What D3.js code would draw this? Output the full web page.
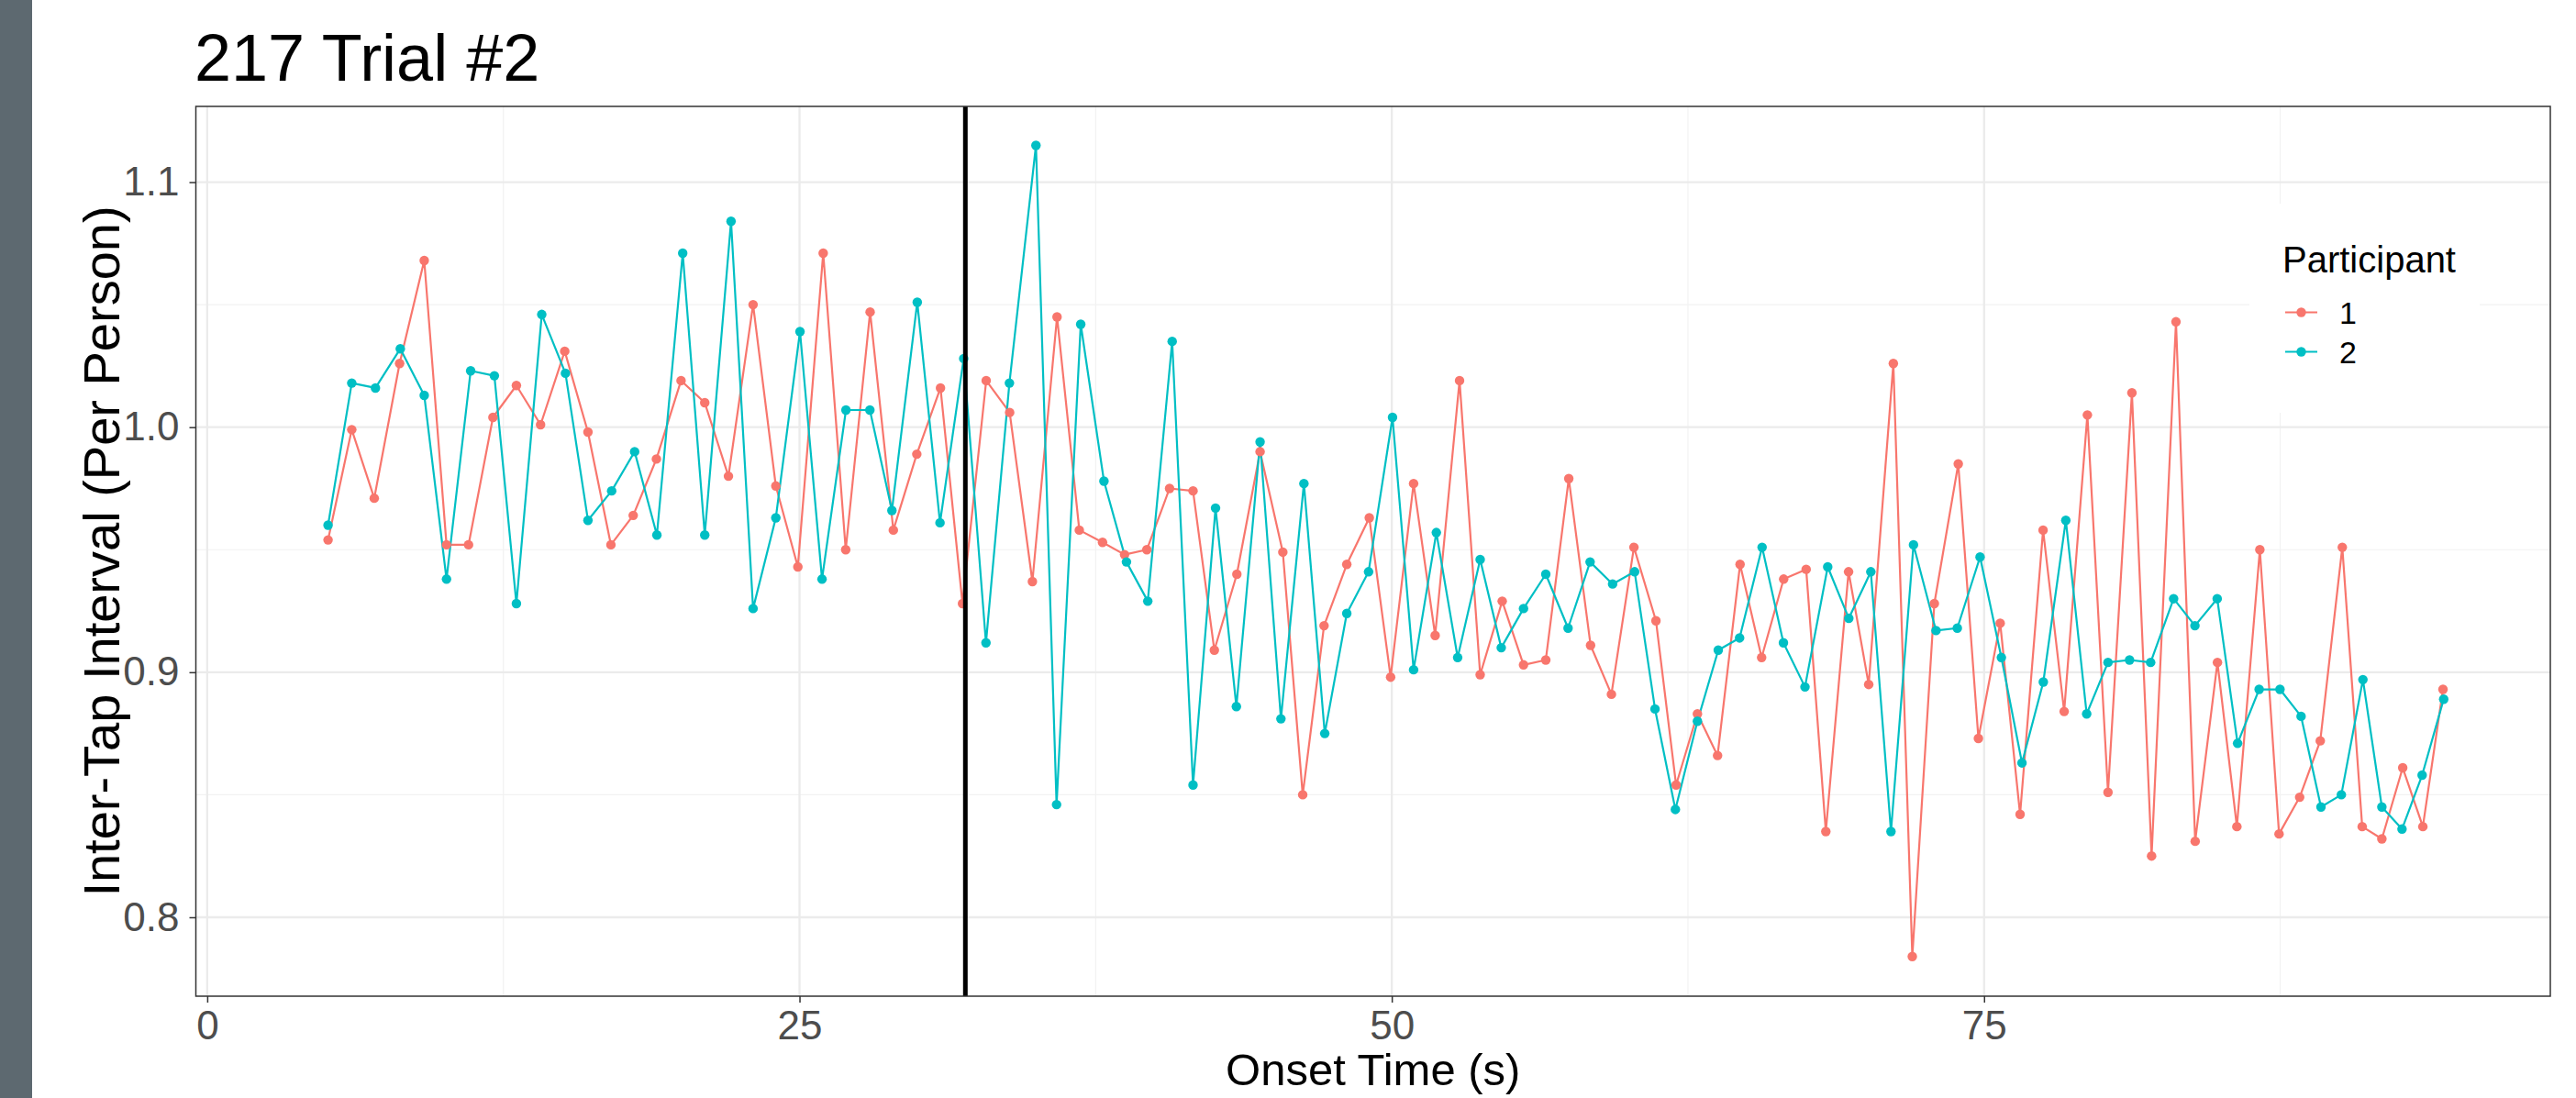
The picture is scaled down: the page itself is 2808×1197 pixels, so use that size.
<!DOCTYPE html>
<html>
<head>
<meta charset="utf-8">
<script src="https://cdn.jsdelivr.net/npm/d3@7"></script>
<style>
  html, body { margin: 0; padding: 0; background: #ffffff; }
  svg { display: block; }
  text { font-family: "Liberation Sans", Arial, Helvetica, sans-serif; }
</style>
</head>
<body>
<script>
// ---------------- Data ----------------
const chartTitle = "217 Trial #2";
const xTitle = "Onset Time (s)";
const yTitle = "Inter-Tap Interval (Per Person)";
const legendTitle = "Participant";
const participants = ["1", "2"];
const seriesColors = ["#F8766D", "#00BFC4"];
const changeTime = 32;

const xTicks = [0, 25, 50, 75];
const xMinorTicks = [12.5, 37.5, 62.5, 87.5];
const yTicks = [0.8, 0.9, 1.0, 1.1];
const yMinorTicks = [0.85, 0.95, 1.05];

// Participant 1 onset times (s) and inter-tap intervals
const p1Time = [5.10, 6.10, 7.05, 8.12, 9.16, 10.10, 11.03, 12.06, 13.05, 14.07,
  15.09, 16.07, 17.04, 17.98, 18.96, 20.00, 21.00, 22.00, 23.04, 24.00,
  24.93, 26.00, 26.95, 27.98, 28.96, 29.95, 30.95, 31.88, 32.88, 33.87,
  34.83, 35.87, 36.81, 37.79, 38.72, 39.66, 40.62, 41.61, 42.51, 43.46,
  44.44, 45.40, 46.24, 47.14, 48.10, 49.05, 49.95, 50.92, 51.83, 52.86,
  53.73, 54.66, 55.56, 56.50, 57.47, 58.39, 59.27, 60.22, 61.15, 62.00,
  62.90, 63.75, 64.70, 65.61, 66.54, 67.49, 68.32, 69.28, 70.13, 71.17,
  71.97, 72.90, 73.91, 74.76, 75.68, 76.52, 77.49, 78.38, 79.36, 80.23,
  81.24, 82.07, 83.10, 83.91, 84.85, 85.67, 86.64, 87.45, 88.32, 89.19,
  90.12, 90.96, 91.79, 92.67, 93.52, 94.37];
const p1ITI = [0.954, 0.999, 0.971, 1.026, 1.068, 0.952, 0.952, 1.004, 1.017, 1.001,
  1.031, 0.998, 0.952, 0.964, 0.987, 1.019, 1.010, 0.980, 1.050, 0.976,
  0.943, 1.071, 0.950, 1.047, 0.958, 0.989, 1.016, 0.928, 1.019, 1.006,
  0.937, 1.045, 0.958, 0.953, 0.948, 0.950, 0.975, 0.974, 0.909, 0.940,
  0.990, 0.949, 0.850, 0.919, 0.944, 0.963, 0.898, 0.977, 0.915, 1.019,
  0.899, 0.929, 0.903, 0.905, 0.979, 0.911, 0.891, 0.951, 0.921, 0.854,
  0.883, 0.866, 0.944, 0.906, 0.938, 0.942, 0.835, 0.941, 0.895, 1.026,
  0.784, 0.928, 0.985, 0.873, 0.920, 0.842, 0.958, 0.884, 1.005, 0.851,
  1.014, 0.825, 1.043, 0.831, 0.904, 0.837, 0.950, 0.834, 0.849, 0.872,
  0.951, 0.837, 0.832, 0.861, 0.837, 0.893];

// Participant 2 onset times (s) and inter-tap intervals
const p2Time = [5.10, 6.10, 7.10, 8.15, 9.16, 10.10, 11.12, 12.12, 13.05, 14.12,
  15.12, 16.07, 17.07, 18.04, 18.98, 20.07, 21.00, 22.11, 23.04, 24.00,
  25.02, 25.95, 26.96, 27.97, 28.90, 29.97, 30.93, 31.93, 32.87, 33.86,
  34.98, 35.85, 36.87, 37.85, 38.80, 39.70, 40.73, 41.61, 42.56, 43.44,
  44.44, 45.32, 46.29, 47.17, 48.10, 49.02, 50.03, 50.92, 51.88, 52.78,
  53.73, 54.62, 55.56, 56.50, 57.44, 58.37, 59.32, 60.25, 61.11, 61.97,
  62.90, 63.78, 64.68, 65.63, 66.53, 67.44, 68.40, 69.29, 70.22, 71.07,
  72.02, 72.97, 73.87, 74.83, 75.73, 76.60, 77.50, 78.45, 79.33, 80.23,
  81.14, 82.03, 83.00, 83.90, 84.84, 85.70, 86.61, 87.49, 88.38, 89.22,
  90.08, 90.99, 91.79, 92.64, 93.49, 94.40];
const p2ITI = [0.960, 1.018, 1.016, 1.032, 1.013, 0.938, 1.023, 1.021, 0.928, 1.046,
  1.022, 0.962, 0.974, 0.990, 0.956, 1.071, 0.956, 1.084, 0.926, 0.963,
  1.039, 0.938, 1.007, 1.007, 0.966, 1.051, 0.961, 1.028, 0.912, 1.018,
  1.115, 0.846, 1.042, 0.978, 0.945, 0.929, 1.035, 0.854, 0.967, 0.886,
  0.994, 0.881, 0.977, 0.875, 0.924, 0.941, 1.004, 0.901, 0.957, 0.906,
  0.946, 0.910, 0.926, 0.940, 0.918, 0.945, 0.936, 0.941, 0.885, 0.844,
  0.880, 0.909, 0.914, 0.951, 0.912, 0.894, 0.943, 0.922, 0.941, 0.835,
  0.952, 0.917, 0.918, 0.947, 0.906, 0.863, 0.896, 0.962, 0.883, 0.904,
  0.905, 0.904, 0.930, 0.919, 0.930, 0.871, 0.893, 0.893, 0.882, 0.845,
  0.850, 0.897, 0.845, 0.836, 0.858, 0.889];

// ---------------- Layout ----------------
const W = 2808, H = 1197;
const panel = { left: 213.5, right: 2780, top: 116, bottom: 1086 };
const fontFamily = '"Liberation Sans", Arial, Helvetica, sans-serif';

const series = [
  { name: participants[0], color: seriesColors[0], pts: p1Time.map((t, i) => ({ t, v: p1ITI[i] })) },
  { name: participants[1], color: seriesColors[1], pts: p2Time.map((t, i) => ({ t, v: p2ITI[i] })) }
];

const x = d3.scaleLinear().domain([-0.48, 98.9]).range([panel.left, panel.right]);
const y = d3.scaleLinear().domain([0.7678, 1.1309]).range([panel.bottom, panel.top]);

const svg = d3.select("body").append("svg")
  .attr("width", W).attr("height", H)
  .attr("viewBox", `0 0 ${W} ${H}`);

svg.append("rect").attr("x", 0).attr("y", 0).attr("width", W).attr("height", H).attr("fill", "#ffffff");
// left dark side bar
svg.append("rect").attr("x", 0).attr("y", 0).attr("width", 35).attr("height", H).attr("fill", "#5d6970");

// clip for panel
svg.append("clipPath").attr("id", "panelClip").append("rect")
  .attr("x", panel.left).attr("y", panel.top)
  .attr("width", panel.right - panel.left).attr("height", panel.bottom - panel.top);

const grid = svg.append("g");
// minor grid
grid.selectAll("line.ymin").data(yMinorTicks).join("line")
  .attr("x1", panel.left).attr("x2", panel.right)
  .attr("y1", d => y(d)).attr("y2", d => y(d))
  .attr("stroke", "#f2f2f2").attr("stroke-width", 1.2);
grid.selectAll("line.xmin").data(xMinorTicks).join("line")
  .attr("y1", panel.top).attr("y2", panel.bottom)
  .attr("x1", d => x(d)).attr("x2", d => x(d))
  .attr("stroke", "#f2f2f2").attr("stroke-width", 1.2);
// major grid
grid.selectAll("line.ymaj").data(yTicks).join("line")
  .attr("x1", panel.left).attr("x2", panel.right)
  .attr("y1", d => y(d)).attr("y2", d => y(d))
  .attr("stroke", "#ebebeb").attr("stroke-width", 2.3);
grid.selectAll("line.xmaj").data(xTicks).join("line")
  .attr("y1", panel.top).attr("y2", panel.bottom)
  .attr("x1", d => x(d)).attr("x2", d => x(d))
  .attr("stroke", "#ebebeb").attr("stroke-width", 2.3);

// data
const plot = svg.append("g").attr("clip-path", "url(#panelClip)");
const line = d3.line().x(d => x(d.t)).y(d => y(d.v));
series.forEach(s => {
  plot.append("path").datum(s.pts)
    .attr("d", line).attr("fill", "none")
    .attr("stroke", s.color).attr("stroke-width", 2.2)
    .attr("stroke-linejoin", "round");
});
series.forEach(s => {
  plot.append("g").selectAll("circle").data(s.pts).join("circle")
    .attr("cx", d => x(d.t)).attr("cy", d => y(d.v)).attr("r", 5.2)
    .attr("fill", s.color);
});

// vertical change line
plot.append("line")
  .attr("x1", x(changeTime)).attr("x2", x(changeTime))
  .attr("y1", panel.top).attr("y2", panel.bottom)
  .attr("stroke", "#000000").attr("stroke-width", 5);

// legend (inside panel, white background)
const lg = svg.append("g");
lg.append("rect").attr("x", 2452).attr("y", 222).attr("width", 251).attr("height", 228).attr("fill", "#ffffff");
lg.append("text").attr("x", 2488).attr("y", 297)
  .attr("font-size", 40).attr("fill", "#000000").text(legendTitle);
const keyY = [340.5, 383.5];
series.forEach((s, i) => {
  lg.append("line").attr("x1", 2491).attr("x2", 2526)
    .attr("y1", keyY[i]).attr("y2", keyY[i])
    .attr("stroke", s.color).attr("stroke-width", 2.2);
  lg.append("circle").attr("cx", 2508.5).attr("cy", keyY[i]).attr("r", 5.2).attr("fill", s.color);
  lg.append("text").attr("x", 2550).attr("y", keyY[i]).attr("dy", "0.36em")
    .attr("font-size", 34).attr("fill", "#000000").text(s.name);
});

// panel border
svg.append("rect")
  .attr("x", panel.left).attr("y", panel.top)
  .attr("width", panel.right - panel.left).attr("height", panel.bottom - panel.top)
  .attr("fill", "none").attr("stroke", "#333333").attr("stroke-width", 1.5);

// axes
const yAxis = svg.append("g").attr("transform", `translate(${panel.left},0)`)
  .call(d3.axisLeft(y).tickValues(yTicks).tickFormat(d3.format(".1f")).tickSize(7).tickPadding(11));
const xAxis = svg.append("g").attr("transform", `translate(0,${panel.bottom})`)
  .call(d3.axisBottom(x).tickValues(xTicks).tickFormat(d3.format("d")).tickSize(7).tickPadding(9));
[yAxis, xAxis].forEach(a => {
  a.select(".domain").remove();
  a.selectAll(".tick line").attr("stroke", "#333333").attr("stroke-width", 1.5);
  a.selectAll(".tick text").attr("fill", "#4d4d4d").attr("font-size", 44).attr("font-family", fontFamily);
});

// titles
svg.append("text").attr("x", 212).attr("y", 88)
  .attr("font-size", 72).attr("fill", "#000000").text(chartTitle);
svg.append("text").attr("x", (panel.left + panel.right) / 2).attr("y", 1183)
  .attr("text-anchor", "middle").attr("font-size", 49).attr("fill", "#000000").text(xTitle);
svg.append("text")
  .attr("transform", `translate(130,${(panel.top + panel.bottom) / 2}) rotate(-90)`)
  .attr("text-anchor", "middle").attr("font-size", 56).attr("fill", "#000000").text(yTitle);
</script>
</body>
</html>
